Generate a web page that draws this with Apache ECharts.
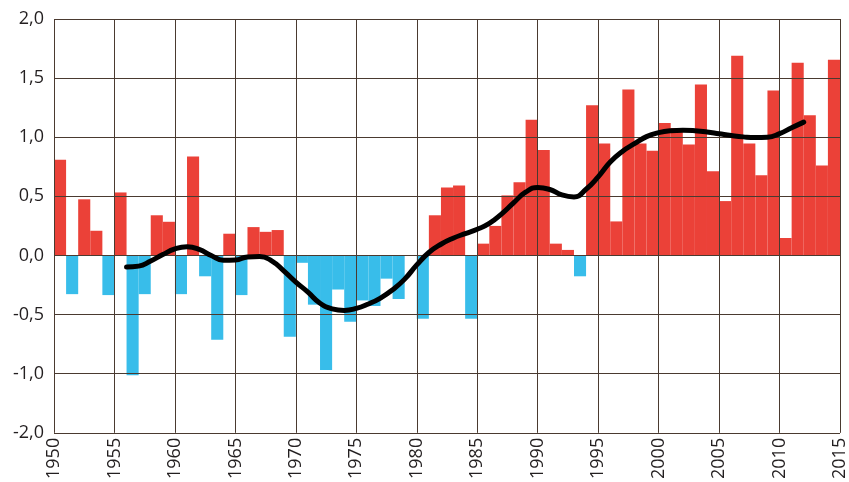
<!DOCTYPE html>
<html>
<head>
<meta charset="utf-8">
<script src="https://cdn.jsdelivr.net/npm/echarts@6/dist/echarts.min.js"></script>
<style>
  html, body { margin: 0; padding: 0; background: #fff; }
  #chart { width: 849px; height: 482px; }
</style>
</head>
<body>
<div id="chart"></div>
<script>
// yearly anomalies, 1950 - 2014 (one bar per year)
var years = [];
for (var y = 1950; y <= 2014; y++) years.push(String(y));

var anomalies = [
  0.81, -0.327, 0.475, 0.209, -0.335, 0.533, -1.013, -0.327, 0.34, 0.285,
  -0.327, 0.837, -0.176, -0.712, 0.184, -0.335, 0.24, 0.20, 0.215, -0.687,
  -0.062, -0.416, -0.969, -0.288, -0.56, -0.38, -0.427, -0.196, -0.368, 0,
  -0.535, 0.34, 0.575, 0.592, -0.535, 0.10, 0.25, 0.508, 0.62, 1.147,
  0.893, 0.10, 0.047, -0.176, 1.27, 0.946, 0.288, 1.404, 0.946, 0.885,
  1.12, 1.078, 0.938, 1.446, 0.712, 0.46, 1.689, 0.946, 0.678, 1.396,
  0.148, 1.63, 1.186, 0.762, 1.655
];

// smoothed curve
var trendYears = [
  1956, 1957, 1958, 1959, 1960, 1961, 1962, 1963, 1964, 1965,
  1966, 1967, 1968, 1969, 1970, 1971, 1972, 1973, 1974, 1975,
  1976, 1977, 1978, 1979, 1980, 1981, 1982, 1983, 1984, 1985,
  1986, 1987, 1988, 1989, 1990, 1991, 1992, 1993, 1994, 1995,
  1996, 1997, 1998, 1999, 2000, 2001, 2002, 2003, 2004, 2005,
  2006, 2007, 2008, 2009, 2010, 2011, 2012
];
var trendValues = [
  -0.097, -0.09, -0.047, 0.008, 0.055, 0.073, 0.052, 0.0, -0.04, -0.038,
  -0.012, -0.008, -0.045, -0.13, -0.225, -0.31, -0.404, -0.452, -0.465, -0.448,
  -0.41, -0.36, -0.29, -0.2, -0.08, 0.025, 0.095, 0.146, 0.185, 0.222,
  0.271, 0.35, 0.445, 0.535, 0.575, 0.558, 0.512, 0.495, 0.56, 0.665,
  0.79, 0.88, 0.945, 1.005, 1.039, 1.055, 1.059, 1.055, 1.045, 1.03,
  1.015, 1.003, 0.997, 1.0, 1.03, 1.08, 1.128
];

// y ticks and the labels printed on them (the original skips -1,5)
var yTicks = [-1.5, -1.0, -0.5, 0, 0.5, 1.0, 1.5, 2.0];
var yLabels = ['-2,0', '-1,0', '-0,5', '0,0', '0,5', '1,0', '1,5', '2,0'];

var RED = '#eb4138';
var BLUE = '#38bdea';
var GRID = '#4a3a30';
var FONT = 'Open Sans';

var chart = echarts.init(document.getElementById('chart'));

var trendData = trendYears.map(function (yr, i) { return [yr, trendValues[i]]; });

var option = {
  backgroundColor: '#fff',
  animation: false,
  grid: { left: 54, right: 8, top: 19, bottom: 47 },
  xAxis: [
    {
      // bars sit in these bands
      type: 'category',
      data: years,
      boundaryGap: true,
      position: 'top',
      show: false
    },
    {
      // year scale used for grid, labels and the curve
      type: 'value',
      min: 1950,
      max: 2015,
      interval: 5,
      position: 'bottom',
      z: 3,
      axisLine: { show: false },
      axisTick: { show: false },
      axisLabel: {
        rotate: 90,
        margin: 5,
        fontFamily: FONT,
        fontSize: 18,
        color: '#231f20',
        formatter: function (v) { return String(v); }
      },
      splitLine: { show: true, lineStyle: { color: GRID, width: 1 } }
    }
  ],
  yAxis: {
    type: 'value',
    min: -1.5,
    max: 2.0,
    interval: 0.5,
    z: 3,
    axisLine: { show: false },
    axisTick: { show: false },
    axisLabel: {
      margin: 10,
      fontFamily: FONT,
      fontSize: 18,
      color: '#231f20',
      formatter: function (v) {
        for (var i = 0; i < yTicks.length; i++) {
          if (Math.abs(yTicks[i] - v) < 1e-6) return yLabels[i];
        }
        return '';
      }
    },
    splitLine: { show: true, lineStyle: { color: GRID, width: 1 } }
  },
  series: [
    {
      type: 'bar',
      xAxisIndex: 0,
      data: anomalies,
      barCategoryGap: '0%',
      z: 2,
      itemStyle: {
        color: function (p) { return p.value >= 0 ? RED : BLUE; }
      }
    },
    {
      type: 'line',
      xAxisIndex: 1,
      data: trendData,
      smooth: true,
      showSymbol: false,
      z: 10,
      lineStyle: { color: '#000', width: 5, cap: 'round', join: 'round' }
    }
  ]
};

chart.setOption(option);
</script>
</body>
</html>
